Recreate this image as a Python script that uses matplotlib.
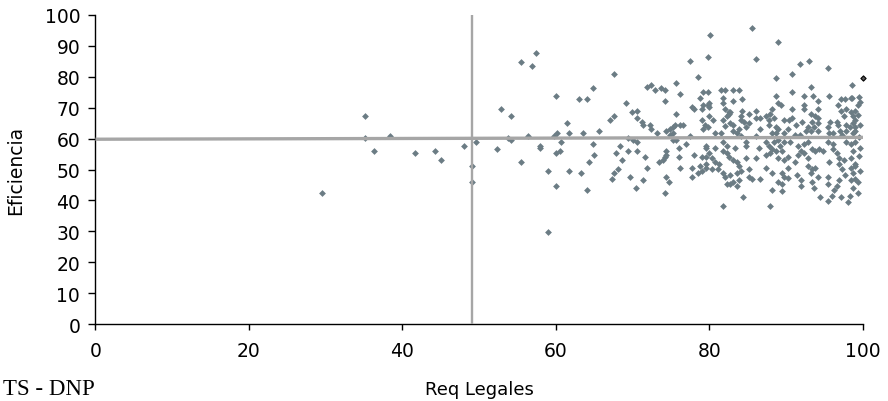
import matplotlib
matplotlib.use("Agg")
import matplotlib.pyplot as plt

# Puntos: Req Legales (x) vs Eficiencia (y)
req_legales = [
    # zona x < 53
    29.5, 35.1, 35.1, 36.3, 38.4, 41.6, 44.2, 45.0, 48.0, 49.0, 49.0, 49.6, 52.3, 52.9,
    # 53 - 68
    54.1, 53.7, 54.1, 55.4, 56.9, 57.4, 55.4, 56.4, 57.9, 57.9, 59.0, 59.0, 60.0, 59.7,
    60.2, 60.0, 60.5, 60.7, 60.0, 61.5, 61.7, 61.7, 63.0, 64.0, 64.8, 63.3, 63.5, 64.8,
    65.0, 64.3, 64.0, 65.6, 67.6, 67.6, 67.1, 67.8, 67.6, 67.3, 68.1, 68.3,
    # 68 - 80
    77.5, 78.5, 75.7, 71.9, 72.4, 72.9, 73.7, 74.2, 76.2, 74.2, 69.1, 69.9, 70.6, 70.6,
    71.2, 71.4, 72.2, 72.4, 73.2, 75.7, 74.4, 74.9, 75.2, 75.5, 76.2, 76.5, 75.2, 74.9,
    75.2, 75.7, 77.5, 77.0, 77.7, 78.0, 78.8, 79.2, 79.8, 79.2, 79.0, 79.8, 79.0, 79.4,
    79.2, 79.8, 69.4, 69.4, 68.6, 70.1, 70.6, 70.6, 71.6, 71.9, 69.6, 71.4, 70.4, 74.2,
    74.4, 74.4, 74.2, 73.9, 73.4, 74.4, 74.7, 76.0, 76.0, 76.2, 77.7, 78.0, 77.7, 78.5,
    78.8, 79.0, 79.0, 79.5, 79.5, 79.5, 79.5, 79.5, 79.8,
    # 80 - 90
    80.1, 85.6, 88.9, 86.1, 88.7, 81.5, 82.0, 83.1, 83.8, 81.8, 81.8, 83.1, 84.3, 88.7,
    88.9, 89.3, 80.0, 80.0, 82.0, 82.5, 84.3, 86.1, 88.1, 80.0, 80.5, 81.8, 82.3, 82.5,
    82.7, 84.1, 85.1, 84.1, 84.5, 85.1, 86.1, 86.6, 87.4, 87.9, 88.4, 89.7, 87.8, 82.0,
    82.7, 83.1, 83.1, 83.8, 84.8, 86.6, 87.8, 88.7, 88.9, 88.2, 88.7, 89.7, 80.7, 81.5,
    83.6, 84.1, 86.1, 80.7, 81.8, 82.3, 83.3, 84.7, 84.8, 86.4, 87.4, 87.8, 88.4, 88.9,
    89.2, 89.7, 88.2, 88.7, 89.4, 87.4, 87.9, 88.9, 89.7, 80.0, 80.3, 80.7, 81.3, 81.8,
    82.3, 82.5, 83.1, 83.6, 83.8, 84.8, 86.1, 80.3, 81.1, 81.8, 82.0, 82.7, 83.6, 84.1,
    83.8, 83.1, 85.1, 85.1, 85.6, 86.6, 87.4, 88.2, 89.4, 89.7, 88.9, 82.3, 82.7, 83.6,
    84.4, 88.2, 89.4, 89.4, 81.8, 87.9,
    # 90 - 100
    93.0, 91.8, 90.7, 95.5, 98.6, 93.2, 90.7, 92.3, 93.5, 95.6, 97.1, 97.6, 98.4, 98.6,
    94.1, 96.8, 99.4, 92.3, 90.7, 92.3, 94.1, 97.1, 97.8, 98.4, 98.9, 93.2, 93.7, 90.7,
    90.4, 94.2, 97.5, 98.7, 98.9, 92.0, 93.4, 94.2, 95.7, 96.6, 98.7, 91.3, 92.8, 93.6,
    95.5, 96.8, 97.8, 98.3, 98.9, 90.2, 92.6, 93.2, 94.2, 97.0, 97.8, 98.7, 98.9, 91.2,
    91.8, 95.6, 96.1, 97.3, 90.5, 91.5, 92.3, 92.8, 95.5, 96.1, 97.8, 98.4, 98.9, 91.9,
    92.3, 93.4, 93.8, 94.3, 94.8, 96.1, 96.6, 98.7, 90.2, 91.5, 92.9, 96.9, 97.5, 98.4,
    91.1, 95.6, 96.9, 98.9, 90.2, 92.9, 93.4, 93.8, 97.3, 98.4, 99.0, 91.4, 93.2, 94.2,
    97.6, 98.7, 90.2, 91.9, 93.4, 95.5, 96.9, 98.4, 98.9, 91.9, 95.5, 96.6, 93.6, 96.2,
    98.7, 94.4, 95.5, 96.0, 97.2, 98.0, 98.3,
    99.5, 99.6, 99.4, 99.6, 99.5, 99.6, 99.5, 99.6, 99.4, 99.3,
]

eficiencia = [
    42.3, 67.3, 60.2, 56.0, 60.8, 55.4, 56.0, 53.0, 57.7, 51.2, 45.9, 58.8, 56.5, 69.7,
    67.3, 60.2, 59.5, 84.7, 83.4, 87.6, 52.4, 60.8, 57.7, 57.1, 49.4, 29.8, 73.9, 60.8,
    61.9, 55.3, 55.9, 58.9, 44.7, 65.0, 61.9, 49.4, 72.7, 72.7, 76.3, 48.9, 61.9, 58.3,
    54.8, 52.4, 43.5, 62.6, 81.0, 67.3, 66.1, 55.3, 48.9, 47.0, 50.1, 57.7,
    85.1, 79.8, 78.1, 76.8, 77.4, 75.6, 76.3, 75.6, 74.4, 72.1, 71.4, 68.5, 69.0, 66.7,
    65.5, 64.4, 64.4, 63.2, 61.9, 67.9, 62.6, 63.1, 63.8, 64.4, 64.4, 64.4, 61.9, 61.3,
    59.5, 59.5, 60.7, 58.3, 70.3, 69.6, 73.2, 75.0, 75.0, 70.9, 69.6, 70.9, 66.1, 64.4,
    63.2, 63.8, 60.2, 55.9, 53.0, 59.5, 58.9, 55.9, 54.2, 50.6, 47.7, 46.5, 44.0, 42.3,
    55.9, 54.8, 54.1, 53.0, 52.4, 47.7, 45.9, 57.1, 54.2, 50.6, 50.6, 54.8, 47.7, 48.9,
    51.2, 49.4, 54.1, 57.7, 57.1, 54.1, 51.8, 50.6, 86.3,
    93.5, 95.9, 91.2, 85.8, 79.7, 75.6, 75.6, 75.6, 75.6, 73.2, 71.4, 72.1, 72.7, 73.8,
    71.4, 70.9, 71.4, 70.3, 69.6, 68.5, 69.0, 69.0, 69.6, 67.3, 66.1, 66.1, 67.3, 67.9,
    68.5, 67.3, 67.9, 66.1, 65.5, 65.0, 66.7, 66.7, 67.3, 67.9, 66.7, 66.1, 66.1, 64.2,
    65.0, 64.4, 62.6, 63.2, 63.8, 63.1, 64.4, 63.8, 63.1, 61.9, 61.9, 61.9, 61.9, 61.9,
    61.9, 60.7, 60.7, 57.1, 58.9, 57.7, 57.1, 58.9, 57.7, 57.1, 58.9, 57.7, 58.9, 59.5,
    57.7, 58.9, 56.5, 55.9, 55.9, 54.8, 55.3, 53.6, 53.0, 55.3, 53.6, 52.4, 51.8, 55.9,
    55.3, 54.2, 53.0, 52.4, 51.2, 53.6, 53.6, 50.2, 50.2, 48.9, 47.7, 48.3, 48.9, 49.4,
    46.5, 46.0, 50.2, 47.7, 47.0, 47.0, 50.6, 48.9, 48.9, 47.7, 45.9, 45.2, 45.2, 44.6,
    41.1, 43.5, 42.9, 45.2, 38.1, 38.1,
    85.1, 84.2, 81.0, 82.7, 77.3, 76.8, 75.0, 73.8, 73.8, 73.8, 72.7, 72.7, 73.2, 73.2,
    72.1, 70.9, 70.9, 70.9, 69.6, 69.6, 69.6, 69.0, 69.6, 68.5, 69.0, 67.9, 67.3, 66.7,
    66.1, 66.7, 67.3, 67.3, 66.1, 65.5, 65.5, 65.0, 65.5, 65.5, 65.0, 64.4, 63.8, 63.8,
    63.8, 64.4, 64.4, 63.8, 63.8, 63.2, 62.6, 62.6, 62.6, 62.6, 62.6, 61.9, 62.6, 61.3,
    61.3, 61.9, 61.9, 61.3, 58.9, 57.7, 58.3, 58.9, 58.9, 58.3, 58.9, 58.3, 58.9, 55.9,
    55.3, 56.5, 55.9, 56.5, 55.9, 56.5, 55.3, 55.9, 54.2, 54.8, 53.6, 53.6, 53.0, 53.6,
    52.4, 52.4, 51.8, 51.8, 50.6, 51.2, 50.2, 50.6, 50.2, 50.6, 51.2, 48.3, 48.9, 47.7,
    48.3, 48.9, 47.2, 46.5, 45.9, 47.7, 46.5, 46.5, 47.0, 44.6, 45.2, 44.6, 44.0, 43.5,
    44.0, 41.1, 39.9, 41.5, 41.1, 39.4, 41.5,
    73.5, 72.0, 67.5, 64.5, 60.5, 57.0, 54.5, 49.5, 46.0, 42.5,
]

# punto resaltado (otra serie)
destacado_x = [100.0]
destacado_y = [79.7]

# lineas de referencia
ref_req = 49.1
ref_ef_x = [0, 100]
ref_ef_y = [59.8, 60.4]

x_ticks = [0, 20, 40, 60, 80, 100]
y_ticks = [0, 10, 20, 30, 40, 50, 60, 70, 80, 90, 100]

COLOR_PUNTOS = "#6b7c84"
COLOR_LINEA = "#a6a6a6"


def dibujar():
    fig = plt.figure(figsize=(8.88, 4.02), dpi=100)
    ax = fig.add_axes([0.1075, 0.1915, 0.8643, 0.7687])

    ax.scatter(req_legales, eficiencia, marker="D", s=12, color=COLOR_PUNTOS,
               linewidths=0, zorder=2, clip_on=False)
    ax.scatter(destacado_x, destacado_y, marker="D", s=7, facecolor="#555555",
               edgecolor="black", linewidths=0.8, zorder=4, clip_on=False)

    ax.plot(ref_ef_x, ref_ef_y, color=COLOR_LINEA, lw=2.4, zorder=3,
            solid_capstyle="butt")
    ax.axvline(ref_req, color=COLOR_LINEA, lw=1.7, zorder=3)

    ax.set_xlim(0, 100)
    ax.set_ylim(0, 100)
    ax.set_xticks(x_ticks)
    ax.set_yticks(y_ticks)

    for lado in ["top", "right"]:
        ax.spines[lado].set_visible(False)
    for lado in ["left", "bottom"]:
        ax.spines[lado].set_linewidth(1.0)

    ax.tick_params(axis="y", length=5, width=1, pad=6, labelsize=13.5)
    ax.tick_params(axis="x", length=4, width=1, pad=8, labelsize=13.5)

    ax.set_xlabel("Req Legales", fontsize=13)
    ax.set_ylabel("Eficiencia", fontsize=13.5)
    ax.xaxis.set_label_coords(0.5, -0.182)
    ax.yaxis.set_label_coords(-0.092, 0.5)

    # fuente (recortada a la izquierda como en el original)
    fig.text(95 / 888, 1 - 395 / 402, "TS - DNP", ha="right", va="baseline",
             fontsize=16.5, family="Liberation Serif")

    fig.savefig("out.png", dpi=100)


if __name__ == "__main__":
    dibujar()
